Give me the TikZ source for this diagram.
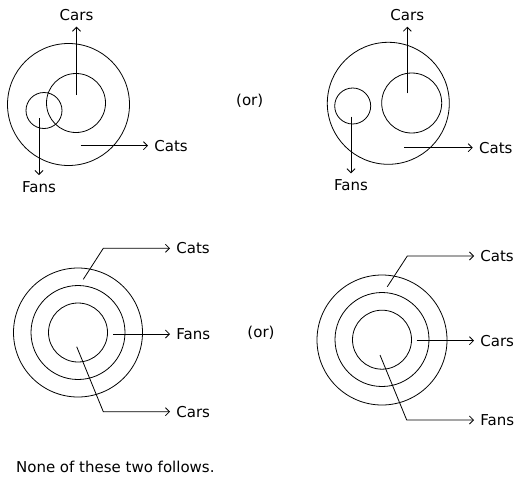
\documentclass[tikz,border=0pt]{standalone}
\usepackage{fontspec}
\setmainfont{DejaVu Sans}
\usetikzlibrary{arrows.meta}

\begin{document}
\begin{tikzpicture}[x=1pt,y=-1pt,line width=0.8pt,
    ring/.style={draw,circle,inner sep=0pt,minimum size=#1},
    lbl/.style={inner sep=6pt,font=\fontsize{15}{17}\selectfont},
    pointer/.style={-{Straight Barb[length=4pt,width=8pt]}}]
\useasboundingbox (0,0) rectangle (532,490);

% first pair
\node[ring=122] (tlOut) at (68.5,104.5) {};
\node[ring=59] (tlCarsRing) at (76,103) {};
\node[ring=36] (tlFansRing) at (44,110.5) {};
\coordinate (tlCarsP) at (76.5,95);
\coordinate (tlFansP) at (39,118);
\coordinate (tlCatsP) at (80.7,145.7);
\node[lbl,anchor=south] (tlCars) at (76.5,26.7) {Cars};
\node[lbl,anchor=north] (tlFans) at (39,175) {Fans};
\node[lbl,anchor=west] (tlCats) at (148,145.7) {Cats};
\draw[pointer] (tlCarsP) -- (tlCars);
\draw[pointer] (tlFansP) -- (tlFans);
\draw[pointer] (tlCatsP) -- (tlCats);

\node[lbl] (orTop) at (249.7,100.7) {(or)};

\node[ring=122] (trOut) at (388.3,103.3) {};
\node[ring=60] (trCarsRing) at (411.7,103) {};
\node[ring=36] (trFansRing) at (352.7,106) {};
\coordinate (trCarsP) at (407.3,93.3);
\coordinate (trFansP) at (351,116.7);
\coordinate (trCatsP) at (404.3,147.7);
\node[lbl,anchor=south] (trCars) at (407.3,26.7) {Cars};
\node[lbl,anchor=north] (trFans) at (351,173.3) {Fans};
\node[lbl,anchor=west] (trCats) at (472.7,147.7) {Cats};
\draw[pointer] (trCarsP) -- (trCars);
\draw[pointer] (trFansP) -- (trFans);
\draw[pointer] (trCatsP) -- (trCats);

% second pair
\node[ring=129] (blOut) at (78,332.5) {};
\node[ring=94] (blMid) at (78,332.5) {};
\node[ring=59] (blIn) at (78,332.5) {};
\coordinate (blCatsP) at (83.3,279.3);
\coordinate (blCatsK) at (103.3,248.3);
\coordinate (blFansP) at (113.3,334);
\coordinate (blCarsP) at (76.7,346.7);
\coordinate (blCarsK) at (103.3,411.7);
\node[lbl,anchor=west] (blCats) at (170,248.3) {Cats};
\node[lbl,anchor=west] (blFans) at (170,334) {Fans};
\node[lbl,anchor=west] (blCars) at (170,411.7) {Cars};
\draw[pointer] (blCatsP) -- (blCatsK) -- (blCats);
\draw[pointer] (blFansP) -- (blFans);
\draw[pointer] (blCarsP) -- (blCarsK) -- (blCars);

\node[lbl] (orBottom) at (261,332.7) {(or)};

\node[ring=130] (brOut) at (382,340) {};
\node[ring=94] (brMid) at (382,339.5) {};
\node[ring=59] (brIn) at (382,339.7) {};
\coordinate (brCatsP) at (387.3,286.7);
\coordinate (brCatsK) at (407.3,256);
\coordinate (brCarsP) at (416.7,340.7);
\coordinate (brFansP) at (380,355);
\coordinate (brFansK) at (406.7,420);
\node[lbl,anchor=west] (brCats) at (474,256) {Cats};
\node[lbl,anchor=west] (brCars) at (474,340.7) {Cars};
\node[lbl,anchor=west] (brFans) at (474,420) {Fans};
\draw[pointer] (brCatsP) -- (brCatsK) -- (brCats);
\draw[pointer] (brCarsP) -- (brCars);
\draw[pointer] (brFansP) -- (brFansK) -- (brFans);

\node[lbl,inner sep=0pt,anchor=west] (verdict) at (15.7,466.7) {None of these two follows.};
\end{tikzpicture}
\end{document}
